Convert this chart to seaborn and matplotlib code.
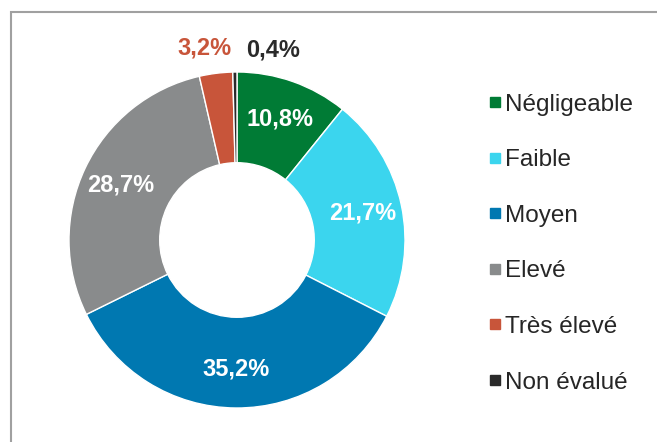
import numpy as np
import matplotlib
matplotlib.use("Agg")
import matplotlib.pyplot as plt
import seaborn as sns
from matplotlib.lines import Line2D
from matplotlib.patches import Rectangle

categories = ["Négligeable", "Faible", "Moyen", "Elevé", "Très élevé", "Non évalué"]
values = [10.8, 21.7, 35.2, 28.7, 3.2, 0.4]
labels = ["10,8%", "21,7%", "35,2%", "28,7%", "3,2%", "0,4%"]
colors = ["#007B35", "#3BD5EE", "#0078B1", "#898B8C", "#C8553A", "#2A2A2A"]

sns.set_theme(style="white")
plt.rcParams['font.family'] = ['Liberation Sans', 'DejaVu Sans']

W, H = 657, 442
fig = plt.figure(figsize=(W / 100, H / 100), dpi=100)

cx, cy, R = 237, H - 240, 168
half = 170
ax = fig.add_axes([(cx - half) / W, (cy - half) / H, 2 * half / W, 2 * half / H])

wedges, _ = ax.pie(values, colors=colors, startangle=90, counterclock=False,
                   radius=1, wedgeprops=dict(width=0.54, edgecolor="white", linewidth=1))
ax.set_xlim(-half / R, half / R)
ax.set_ylim(-half / R, half / R)
ax.set_aspect("equal")
ax.axis("off")

# labels
cum = np.cumsum([0] + values[:-1])
for i, (v, lab) in enumerate(zip(values, labels)):
    ang = np.deg2rad(90 - (cum[i] + v / 2) * 3.6)
    if v > 5:
        r = 0.765
        ax.text(r * np.cos(ang), r * np.sin(ang), lab, ha="center", va="center",
                color="white", fontsize=17, fontweight="bold")
    else:
        r = 1.16
        shift = 0.0 if i == 4 else -0.2
        ax.text(r * np.cos(ang + shift) + (-0.05 if i == 4 else 0.0), r * np.sin(ang + shift) - 0.01, lab,
                ha="center", va="center", color=colors[i], fontsize=17, fontweight="bold")

handles = [Line2D([0], [0], marker="s", linestyle="", markersize=7.5,
                  markerfacecolor=c, markeredgecolor=c) for c in colors]
fig.legend(handles, categories, loc="upper left", bbox_to_anchor=(478 / W, 1 - 84 / H),
           frameon=False, fontsize=17.5, handlelength=0.6, handletextpad=0.12,
           labelspacing=1.38, borderaxespad=0)

# frame of the chart area
fig.patches.append(Rectangle((10.5 / W, -0.1), 1.2, 1 - 11.5 / H + 0.1,
                             transform=fig.transFigure, fill=False,
                             edgecolor="#A0A0A0", linewidth=1.5))

fig.savefig("out.png", dpi=100)
